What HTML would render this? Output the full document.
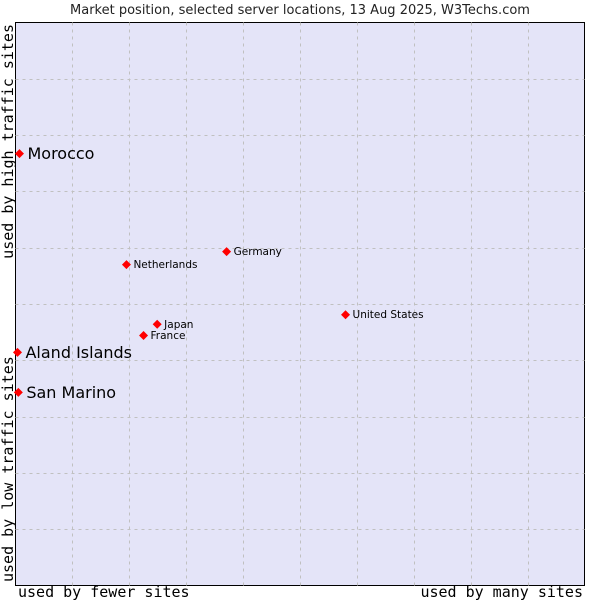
<!DOCTYPE html>
<html><head><meta charset="utf-8"><style>
body{margin:0;background:#fff;width:600px;height:600px;overflow:hidden}
svg{display:block}
</style></head><body>
<svg id="chart" width="600" height="600" font-family="'DejaVu Sans','Liberation Sans',sans-serif">
<text x="300" y="14" text-anchor="middle" font-size="13" fill="#222">Market position, selected server locations, 13 Aug 2025, W3Techs.com</text>
<rect x="15.5" y="22.5" width="569" height="563" fill="#e4e4f8" stroke="#000"/>
<g id="grid"></g>
<g id="points"></g>
<text x="18" y="597" font-size="15" font-family="'DejaVu Sans Mono','Liberation Mono',monospace">used by fewer sites</text>
<text x="583" y="597" text-anchor="end" font-size="15" font-family="'DejaVu Sans Mono','Liberation Mono',monospace">used by many sites</text>
<text transform="translate(13,582) rotate(-90)" font-size="15" font-family="'DejaVu Sans Mono','Liberation Mono',monospace">used by low traffic sites</text>
<text transform="translate(13,24) rotate(-90)" text-anchor="end" font-size="15" font-family="'DejaVu Sans Mono','Liberation Mono',monospace">used by high traffic sites</text>
</svg>
<script>
const names=["Morocco","Aland Islands","San Marino","Netherlands","Germany","United States","Japan","France"];
const xValues=[0.7,0.35,0.5,19.5,37.1,58.0,24.9,22.5];
const yValues=[76.7,41.4,34.3,57.0,59.3,48.1,46.4,44.4];
const bigLabel=[true,true,true,false,false,false,false,false];
const L=15.5,T=22.5,W=569,H=563;
const xs=v=>L+v/100*W, ys=v=>T+H-v/100*H;
const NS="http://www.w3.org/2000/svg";
const grid=document.getElementById('grid');
for(let i=1;i<10;i++){
 const lv=document.createElementNS(NS,'line');
 const x=Math.round(L+i*W/10)+0.5;
 lv.setAttribute('x1',x);lv.setAttribute('x2',x);lv.setAttribute('y1',T);lv.setAttribute('y2',T+H);
 lv.setAttribute('stroke','#c0c0c0');lv.setAttribute('stroke-dasharray','3,4');
 
 
 grid.appendChild(lv);
 const lh=document.createElementNS(NS,'line');
 const y=Math.round(T+i*H/10)+0.5;
 lh.setAttribute('x1',L);lh.setAttribute('x2',L+W);lh.setAttribute('y1',y);lh.setAttribute('y2',y);
 lh.setAttribute('stroke','#c0c0c0');lh.setAttribute('stroke-dasharray','3,4');
 
 
 grid.appendChild(lh);
}
const pts=document.getElementById('points');
names.forEach((n,i)=>{
 const x=xs(xValues[i]),y=ys(yValues[i]);
 const d=document.createElementNS(NS,'polygon');
 d.setAttribute('points',`${x},${y-4.5} ${x+4.5},${y} ${x},${y+4.5} ${x-4.5},${y}`);
 d.setAttribute('fill','#f00');
 
 
 pts.appendChild(d);
 const t=document.createElementNS(NS,'text');
 const big=bigLabel[i];
 t.setAttribute('x',x+(big?8:7));
 t.setAttribute('y',y+(big?5.5:3.5));
 t.setAttribute('font-size',big?16:10.5);
 t.setAttribute('fill','#000');
 t.textContent=n;
 
 
 pts.appendChild(t);
});
</script>
</body></html>
